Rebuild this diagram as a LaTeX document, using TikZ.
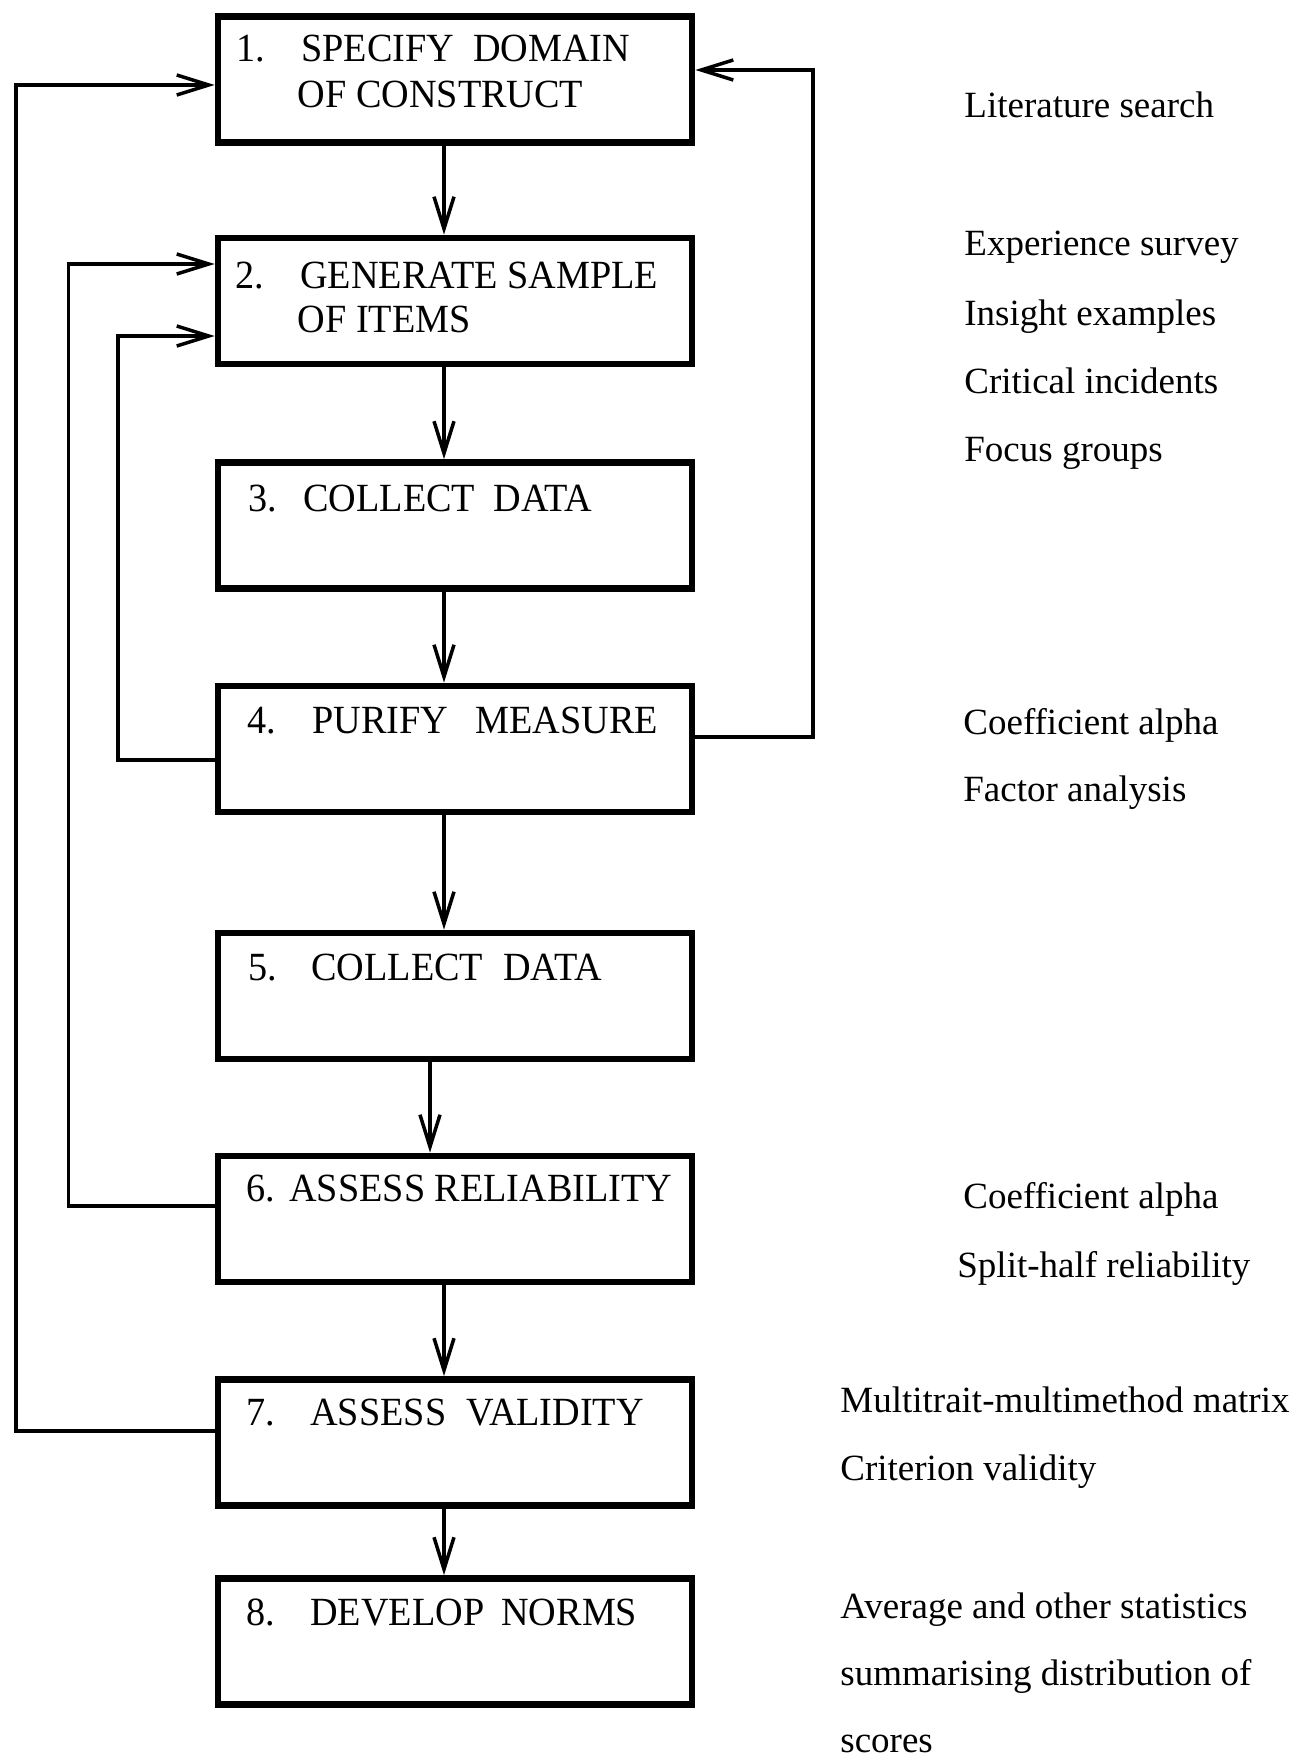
\documentclass[tikz,border=0pt]{standalone}
\usepackage{fontspec}
\setmainfont{Liberation Serif}
\newfontfamily\boxfont[FakeStretch=0.955]{Liberation Serif}
\usetikzlibrary{arrows.meta}

\begin{document}
\begin{tikzpicture}[x=0.5pt,y=-0.5pt,
  stage/.style={draw,line width=3.4pt,minimum width=237pt,minimum height=63pt,inner sep=0pt},
  lbl/.style={anchor=base west,inner sep=0pt,font=\boxfont\fontsize{20pt}{24pt}\selectfont},
  note/.style={anchor=base west,inner sep=0pt,font=\fontsize{18.5pt}{22pt}\selectfont},
  flow/.style={line width=1.75pt,-{Straight Barb[length=16pt,width=10pt,line width=1.75pt]}},
]
\useasboundingbox (0,0) rectangle (1305,1760);

% stage boxes
\node[stage] (b1) at (455,79.5) {};
\node[stage] (b2) at (455,301) {};
\node[stage] (b3) at (455,525.5) {};
\node[stage] (b4) at (455,749) {};
\node[stage] (b5) at (455,996) {};
\node[stage] (b6) at (455,1219) {};
\node[stage] (b7) at (455,1442.5) {};
\node[stage] (b8) at (455,1641.5) {};

% stage labels
\node[lbl] (t1a) at (236,62) {\makebox[32.4pt][l]{1.}\makebox[86pt][l]{SPECIFY}DOMAIN};
\node[lbl] (t1b) at (297.5,108) {OF CONSTRUCT};
\node[lbl] (t2a) at (235,288) {\makebox[32.5pt][l]{2.}GENERATE SAMPLE};
\node[lbl] (t2b) at (297.5,332) {OF ITEMS};
\node[lbl] (t3) at (248,511) {\makebox[27.5pt][l]{3.}\makebox[95pt][l]{COLLECT}DATA};
\node[lbl] (t4) at (247,733) {\makebox[32.5pt][l]{4.}\makebox[81.5pt][l]{PURIFY}MEASURE};
\node[lbl] (t5) at (248,980) {\makebox[31.5pt][l]{5.}\makebox[96pt][l]{COLLECT}DATA};
\node[lbl] (t6) at (246,1201) {\makebox[21.5pt][l]{6.}ASSESS RELIABILITY};
\node[lbl] (t7) at (246,1425) {\makebox[32pt][l]{7.}\makebox[78pt][l]{ASSESS}VALIDITY};
\node[lbl] (t8) at (246,1625) {\makebox[32pt][l]{8.}\makebox[95.5pt][l]{DEVELOP}NORMS};

% main sequence
\coordinate (ax) at (444,0);
\coordinate (bx) at (430,0);
\draw[flow] (b1.south -| ax) -- (b2.north -| ax);
\draw[flow] (b2.south -| ax) -- (b3.north -| ax);
\draw[flow] (b3.south -| ax) -- (b4.north -| ax);
\draw[flow] (b4.south -| ax) -- (b5.north -| ax);
\draw[flow] (b5.south -| bx) -- (b6.north -| bx);
\draw[flow] (b6.south -| ax) -- (b7.north -| ax);
\draw[flow] (b7.south -| ax) -- (b8.north -| ax);

% feedback loops
\draw[flow] ([yshift=5.75pt]b7.west) -- (16,1431) -- (16,85) -- ([yshift=-2.75pt]b1.west);
\draw[flow] ([yshift=6.5pt]b6.west) -- (68.5,1206) -- (68.5,264) -- ([yshift=18.5pt]b2.west);
\draw[flow] ([yshift=-5.5pt]b4.west) -- (118,760) -- (118,336) -- ([yshift=-17.5pt]b2.west);
\draw[flow] ([yshift=6pt]b4.east) -- (813,737) -- (813,70) -- ([yshift=4.75pt]b1.east);

% methods for each stage
\node[note] (n1) at (964,118) {Literature search};
\node[note] (n2) at (964,256) {Experience survey};
\node[note] (n3) at (964,325) {Insight examples};
\node[note] (n4) at (964,393) {Critical incidents};
\node[note] (n5) at (964,461) {Focus groups};
\node[note] (n6) at (963,734) {Coefficient alpha};
\node[note] (n7) at (963,801) {Factor analysis};
\node[note] (n8) at (963,1208) {Coefficient alpha};
\node[note] (n9) at (957,1277) {Split-half reliability};
\node[note] (n10) at (840,1412) {Multitrait-multimethod matrix};
\node[note] (n11) at (840,1480) {Criterion validity};
\node[note] (n12) at (840,1618) {Average and other statistics};
\node[note] (n13) at (840,1685) {summarising distribution of};
\node[note] (n14) at (840,1752) {scores};
\end{tikzpicture}
\end{document}
